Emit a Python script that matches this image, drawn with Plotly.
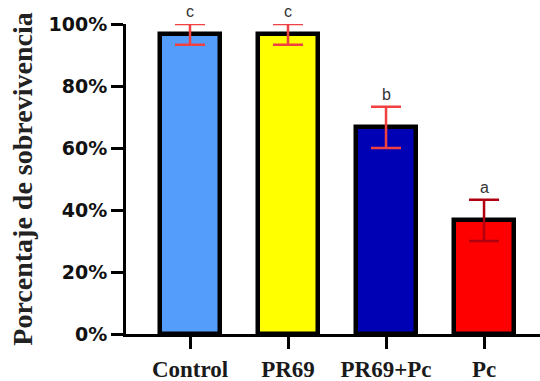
import plotly.graph_objects as go

categories = ["Control", "PR69", "PR69+Pc", "Pc"]
means = [96.67, 96.67, 66.67, 36.67]
errors = [3.33, 3.33, 6.67, 6.67]
letters = ["c", "c", "b", "a"]
bar_colors = ["#559dfb", "#ffff00", "#0000b4", "#ff0000"]
err_colors = ["#f04040", "#f04040", "#f04040", "#b00010"]
y_ticks = [0, 20, 40, 60, 80, 100]

fig = go.Figure()
for i, c in enumerate(categories):
    fig.add_trace(go.Bar(
        x=[i], y=[means[i]], width=0.62,
        marker=dict(color=bar_colors[i], line=dict(color="black", width=4.5)),
        error_y=dict(type="data", array=[errors[i]], visible=True,
                     color=err_colors[i], thickness=2.5, width=15),
        showlegend=False,
    ))
    fig.add_annotation(x=i, y=means[i] + errors[i], text=letters[i],
                       showarrow=False, yanchor="bottom", yshift=2,
                       font=dict(family="Liberation Sans", size=16, color="#333333"))

fig.update_layout(
    width=540, height=381,
    margin=dict(l=126, r=0, t=24, b=47),
    plot_bgcolor="white", paper_bgcolor="white",
    bargap=0,
)
fig.update_xaxes(
    range=[-0.653, 3.571],
    tickvals=list(range(len(categories))),
    ticktext=["<b>%s</b>" % c for c in categories],
    showline=True, linecolor="black", linewidth=3,
    ticks="outside", ticklen=12, tickwidth=3, tickcolor="black",
    showgrid=False, zeroline=False,
    tickfont=dict(family="Liberation Serif", size=23, color="#1a1a1a"),
)
fig.update_yaxes(
    range=[0, 100], tickvals=y_ticks,
    ticktext=["<b>%d%%</b>" % v for v in y_ticks],
    showline=True, linecolor="black", linewidth=3,
    ticks="outside", ticklen=12, tickwidth=3, tickcolor="black",
    showgrid=False, zeroline=False,
    tickfont=dict(family="DejaVu Sans", size=19, color="#111111"),
    title=dict(text="<b>Porcentaje de sobrevivencia</b>", standoff=8,
               font=dict(family="Liberation Serif", size=28, color="#222222")),
)

fig.write_html("out.html", config={"displayModeBar": False},
               post_script="document.body.style.margin='0';")
